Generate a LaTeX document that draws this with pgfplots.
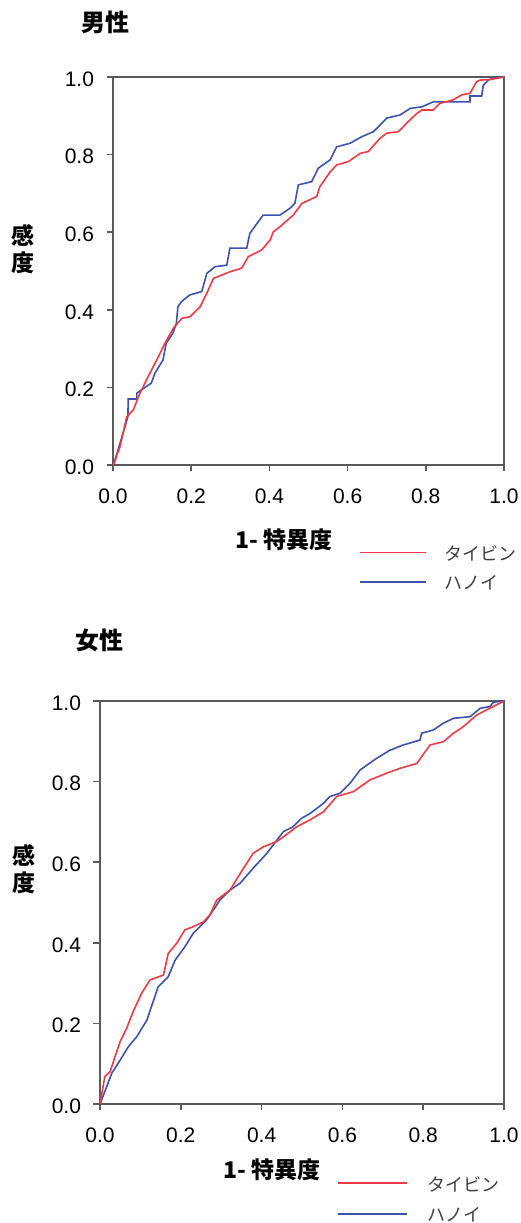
\documentclass[border=0pt]{standalone}
\usepackage{pgfplots}
\pgfplotsset{compat=1.18}
\usepackage{fontspec}
\setmainfont{Liberation Sans}
\newfontfamily\jp{Noto Sans CJK JP}
\definecolor{rocred}{RGB}{238,58,68}
\definecolor{rocblue}{RGB}{62,82,170}
\definecolor{framegray}{RGB}{90,90,90}
\pgfplotsset{
  rocstyle/.style={
    scale only axis,
    xmin=0, xmax=1, ymin=0, ymax=1,
    xtick={0,0.2,0.4,0.6,0.8,1},
    ytick={0,0.2,0.4,0.6,0.8,1},
    tick align=outside,
    xtick pos=bottom, ytick pos=left,
    major tick length=6.5pt,
    axis line style={draw=framegray, line width=1.5pt},
    every tick/.style={draw=framegray, line width=1.5pt},
    tick label style={font=\fontsize{21}{21}\selectfont, text=black},
    xticklabel style={yshift=-14pt},
    yticklabel style={xshift=-9pt, yshift=-2pt},
    /pgf/number format/.cd, fixed, fixed zerofill, precision=1, assume math mode=true,
  },
  rocline/.style={line width=1.6pt, line join=miter},
}
\pgfplotstableread{
x y
0 0
0.005 0.009
0.010 0.026
0.018 0.047
0.035 0.124
0.052 0.142
0.069 0.185
0.090 0.228
0.112 0.271
0.133 0.314
0.154 0.352
0.176 0.378
0.197 0.382
0.223 0.408
0.240 0.443
0.257 0.481
0.299 0.498
0.329 0.507
0.346 0.537
0.380 0.554
0.402 0.580
0.410 0.601
0.427 0.614
0.461 0.644
0.483 0.674
0.521 0.692
0.529 0.717
0.555 0.755
0.572 0.773
0.602 0.782
0.632 0.803
0.653 0.808
0.683 0.842
0.700 0.855
0.730 0.859
0.751 0.881
0.777 0.906
0.790 0.915
0.819 0.915
0.836 0.932
0.870 0.941
0.892 0.954
0.913 0.958
0.930 0.988
0.939 0.992
0.969 0.994
1 1
}\maleTB
\pgfplotstableread{
x y
0 0
0.005 0.013
0.013 0.039
0.028 0.090
0.038 0.124
0.039 0.170
0.061 0.170
0.061 0.185
0.072 0.193
0.098 0.211
0.107 0.236
0.128 0.271
0.136 0.314
0.153 0.339
0.162 0.365
0.166 0.408
0.175 0.421
0.196 0.438
0.227 0.447
0.240 0.494
0.261 0.511
0.291 0.515
0.299 0.559
0.342 0.559
0.350 0.597
0.384 0.644
0.427 0.644
0.453 0.662
0.465 0.674
0.474 0.722
0.508 0.730
0.525 0.765
0.555 0.786
0.572 0.820
0.606 0.829
0.636 0.846
0.666 0.859
0.683 0.876
0.700 0.894
0.734 0.902
0.760 0.919
0.790 0.923
0.819 0.936
0.913 0.936
0.913 0.951
0.943 0.951
0.947 0.979
0.960 0.992
0.973 0.997
0.998 1.0
1 1
}\maleHN
\pgfplotstableread{
x y
0 0
0.012 0.068
0.025 0.080
0.037 0.117
0.050 0.155
0.066 0.188
0.082 0.229
0.103 0.275
0.124 0.308
0.157 0.320
0.169 0.374
0.190 0.399
0.210 0.432
0.231 0.440
0.256 0.452
0.272 0.469
0.289 0.506
0.322 0.531
0.347 0.572
0.379 0.622
0.404 0.638
0.437 0.651
0.454 0.663
0.487 0.688
0.520 0.705
0.553 0.725
0.586 0.763
0.627 0.775
0.668 0.804
0.710 0.821
0.743 0.833
0.784 0.845
0.817 0.891
0.850 0.899
0.875 0.920
0.899 0.936
0.932 0.965
0.965 0.982
1 1
}\femaleTB
\pgfplotstableread{
x y
0 0
0.012 0.031
0.029 0.076
0.050 0.109
0.070 0.142
0.091 0.167
0.116 0.208
0.144 0.291
0.169 0.316
0.186 0.357
0.210 0.390
0.231 0.424
0.264 0.457
0.297 0.506
0.322 0.531
0.347 0.548
0.379 0.585
0.413 0.622
0.454 0.676
0.478 0.688
0.499 0.709
0.520 0.721
0.553 0.746
0.569 0.763
0.594 0.771
0.619 0.796
0.644 0.829
0.685 0.858
0.718 0.878
0.751 0.891
0.792 0.903
0.796 0.920
0.825 0.928
0.850 0.945
0.875 0.957
0.916 0.961
0.941 0.982
0.965 0.986
0.974 0.997
1 1
}\femaleHN
\begin{document}
\begin{tikzpicture}[x=1pt,y=1pt]
\useasboundingbox (0,0) rectangle (520,1223);
% ---------- male ----------
\begin{axis}[rocstyle, at={(113pt,758pt)}, anchor=south west, width=391pt, height=388pt]
\addplot[rocline, rocblue] table {\maleHN};
\addplot[rocline, rocred] table {\maleTB};
\end{axis}
\node[font=\jp\bfseries\fontsize{24}{24}\selectfont] at (105,1201) {男性};
\node[font=\jp\bfseries\fontsize{23}{27}\selectfont, align=center] at (23,974) {感\\度};
\node[font=\jp\bfseries\fontsize{23}{23}\selectfont] at (284,683) {1- 特異度};
\draw[rocred, line width=1.6pt] (360,670.5) -- (426,670.5);
\draw[rocblue, line width=1.6pt] (360,641) -- (426,641);
\node[font=\jp\fontsize{18}{18}\selectfont, text=black!75, anchor=west] at (441,670) {タイビン};
\node[font=\jp\fontsize{18}{18}\selectfont, text=black!75, anchor=west] at (441,640) {ハノイ};
% ---------- female ----------
\begin{axis}[rocstyle, at={(100pt,119pt)}, anchor=south west, width=404pt, height=403pt]
\addplot[rocline, rocblue] table {\femaleHN};
\addplot[rocline, rocred] table {\femaleTB};
\end{axis}
\node[font=\jp\bfseries\fontsize{24}{24}\selectfont] at (99,583) {女性};
\node[font=\jp\bfseries\fontsize{23}{27}\selectfont, align=center] at (24,354) {感\\度};
\node[font=\jp\bfseries\fontsize{23}{23}\selectfont] at (272,53) {1- 特異度};
\draw[rocred, line width=1.6pt] (338,40) -- (407,40);
\draw[rocblue, line width=1.6pt] (338,9) -- (407,9);
\node[font=\jp\fontsize{18}{18}\selectfont, text=black!75, anchor=west] at (424,39) {タイビン};
\node[font=\jp\fontsize{18}{18}\selectfont, text=black!75, anchor=west] at (424,8) {ハノイ};
\end{tikzpicture}
\end{document}
